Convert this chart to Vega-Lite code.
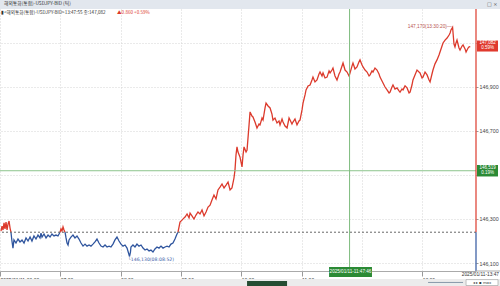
{
"$schema": "https://vega.github.io/schema/vega-lite/v6.json",
"width": 476, "height": 262,
"autosize": {"type": "none"},
"padding": {"left": 0, "top": 9, "right": 24, "bottom": 15},
"background": "white",
"config": {"view": {"stroke": null}, "font": "Liberation Sans", "axis": {"labelOverlap": false}},
"datasets": {"ticks": [
{"t":1.0,"p":146.245,"seg":1,"dir":"up"},{"t":2.0,"p":146.268,"seg":1,"dir":"up"},{"t":3.0,"p":146.250,"seg":1,"dir":"up"},{"t":4.0,"p":146.282,"seg":1,"dir":"up"},{"t":5.0,"p":146.255,"seg":1,"dir":"up"},{"t":6.0,"p":146.286,"seg":1,"dir":"up"},{"t":7.0,"p":146.250,"seg":1,"dir":"up"},{"t":8.0,"p":146.277,"seg":1,"dir":"up"},{"t":9.0,"p":146.291,"seg":1,"dir":"up"},{"t":10.0,"p":146.259,"seg":1,"dir":"up"},{"t":10.9,"p":146.240,"seg":1,"dir":"up"},
{"t":10.9,"p":146.240,"seg":2,"dir":"down"},{"t":11.9,"p":146.200,"seg":2,"dir":"down"},{"t":12.9,"p":146.168,"seg":2,"dir":"down"},{"t":13.9,"p":146.205,"seg":2,"dir":"down"},{"t":15.9,"p":146.191,"seg":2,"dir":"down"},{"t":17.9,"p":146.209,"seg":2,"dir":"down"},{"t":19.9,"p":146.196,"seg":2,"dir":"down"},{"t":21.9,"p":146.205,"seg":2,"dir":"down"},{"t":23.9,"p":146.191,"seg":2,"dir":"down"},{"t":25.9,"p":146.214,"seg":2,"dir":"down"},{"t":27.9,"p":146.200,"seg":2,"dir":"down"},{"t":29.9,"p":146.218,"seg":2,"dir":"down"},{"t":31.8,"p":146.200,"seg":2,"dir":"down"},{"t":33.8,"p":146.223,"seg":2,"dir":"down"},{"t":35.8,"p":146.209,"seg":2,"dir":"down"},{"t":37.8,"p":146.227,"seg":2,"dir":"down"},{"t":39.8,"p":146.214,"seg":2,"dir":"down"},{"t":40.8,"p":146.236,"seg":2,"dir":"down"},{"t":41.8,"p":146.218,"seg":2,"dir":"down"},{"t":43.8,"p":146.232,"seg":2,"dir":"down"},{"t":45.8,"p":146.214,"seg":2,"dir":"down"},{"t":47.8,"p":146.227,"seg":2,"dir":"down"},{"t":49.8,"p":146.218,"seg":2,"dir":"down"},{"t":51.7,"p":146.232,"seg":2,"dir":"down"},{"t":53.7,"p":146.223,"seg":2,"dir":"down"},{"t":55.7,"p":146.227,"seg":2,"dir":"down"},{"t":57.7,"p":146.223,"seg":2,"dir":"down"},{"t":59.7,"p":146.240,"seg":2,"dir":"down"},
{"t":59.7,"p":146.240,"seg":3,"dir":"up"},{"t":60.7,"p":146.255,"seg":3,"dir":"up"},{"t":61.7,"p":146.245,"seg":3,"dir":"up"},{"t":62.7,"p":146.264,"seg":3,"dir":"up"},{"t":63.7,"p":146.250,"seg":3,"dir":"up"},{"t":64.7,"p":146.240,"seg":3,"dir":"up"},
{"t":64.7,"p":146.240,"seg":4,"dir":"down"},{"t":65.7,"p":146.214,"seg":4,"dir":"down"},{"t":66.7,"p":146.191,"seg":4,"dir":"down"},{"t":67.7,"p":146.182,"seg":4,"dir":"down"},{"t":68.7,"p":146.205,"seg":4,"dir":"down"},{"t":70.6,"p":146.218,"seg":4,"dir":"down"},{"t":72.6,"p":146.227,"seg":4,"dir":"down"},{"t":74.6,"p":146.214,"seg":4,"dir":"down"},{"t":76.6,"p":146.223,"seg":4,"dir":"down"},{"t":78.6,"p":146.209,"seg":4,"dir":"down"},{"t":80.6,"p":146.191,"seg":4,"dir":"down"},{"t":82.6,"p":146.177,"seg":4,"dir":"down"},{"t":84.6,"p":146.186,"seg":4,"dir":"down"},{"t":86.6,"p":146.177,"seg":4,"dir":"down"},{"t":88.6,"p":146.182,"seg":4,"dir":"down"},{"t":90.5,"p":146.177,"seg":4,"dir":"down"},{"t":92.5,"p":146.186,"seg":4,"dir":"down"},{"t":94.5,"p":146.196,"seg":4,"dir":"down"},{"t":96.5,"p":146.209,"seg":4,"dir":"down"},{"t":98.5,"p":146.191,"seg":4,"dir":"down"},{"t":100.5,"p":146.177,"seg":4,"dir":"down"},{"t":102.5,"p":146.173,"seg":4,"dir":"down"},{"t":104.5,"p":146.182,"seg":4,"dir":"down"},{"t":106.5,"p":146.173,"seg":4,"dir":"down"},{"t":108.5,"p":146.177,"seg":4,"dir":"down"},{"t":110.4,"p":146.173,"seg":4,"dir":"down"},{"t":112.4,"p":146.186,"seg":4,"dir":"down"},{"t":114.4,"p":146.205,"seg":4,"dir":"down"},{"t":116.4,"p":146.218,"seg":4,"dir":"down"},{"t":118.4,"p":146.200,"seg":4,"dir":"down"},{"t":120.4,"p":146.186,"seg":4,"dir":"down"},{"t":122.4,"p":146.177,"seg":4,"dir":"down"},{"t":124.4,"p":146.182,"seg":4,"dir":"down"},{"t":126.4,"p":146.168,"seg":4,"dir":"down"},{"t":128.9,"p":146.130,"seg":4,"dir":"down"},{"t":129.8,"p":146.150,"seg":4,"dir":"down"},{"t":130.3,"p":146.173,"seg":4,"dir":"down"},{"t":132.3,"p":146.182,"seg":4,"dir":"down"},{"t":134.3,"p":146.173,"seg":4,"dir":"down"},{"t":136.3,"p":146.186,"seg":4,"dir":"down"},{"t":138.3,"p":146.177,"seg":4,"dir":"down"},{"t":140.3,"p":146.182,"seg":4,"dir":"down"},{"t":142.3,"p":146.168,"seg":4,"dir":"down"},{"t":144.3,"p":146.159,"seg":4,"dir":"down"},{"t":146.3,"p":146.164,"seg":4,"dir":"down"},{"t":148.3,"p":146.155,"seg":4,"dir":"down"},{"t":150.2,"p":146.159,"seg":4,"dir":"down"},{"t":152.2,"p":146.150,"seg":4,"dir":"down"},{"t":154.2,"p":146.164,"seg":4,"dir":"down"},{"t":156.2,"p":146.173,"seg":4,"dir":"down"},{"t":158.2,"p":146.168,"seg":4,"dir":"down"},{"t":160.2,"p":146.177,"seg":4,"dir":"down"},{"t":162.2,"p":146.168,"seg":4,"dir":"down"},{"t":164.2,"p":146.173,"seg":4,"dir":"down"},{"t":166.2,"p":146.177,"seg":4,"dir":"down"},{"t":168.2,"p":146.173,"seg":4,"dir":"down"},{"t":170.1,"p":146.186,"seg":4,"dir":"down"},{"t":172.1,"p":146.191,"seg":4,"dir":"down"},{"t":174.1,"p":146.209,"seg":4,"dir":"down"},{"t":176.1,"p":146.232,"seg":4,"dir":"down"},{"t":177.1,"p":146.240,"seg":4,"dir":"down"},
{"t":177.1,"p":146.240,"seg":5,"dir":"up"},{"t":179.1,"p":146.286,"seg":5,"dir":"up"},{"t":181.1,"p":146.295,"seg":5,"dir":"up"},{"t":183.1,"p":146.305,"seg":5,"dir":"up"},{"t":184.1,"p":146.309,"seg":5,"dir":"up"},{"t":186.1,"p":146.323,"seg":5,"dir":"up"},{"t":188.1,"p":146.305,"seg":5,"dir":"up"},{"t":189.1,"p":146.327,"seg":5,"dir":"up"},{"t":191.0,"p":146.314,"seg":5,"dir":"up"},{"t":193.0,"p":146.300,"seg":5,"dir":"up"},{"t":195.0,"p":146.318,"seg":5,"dir":"up"},{"t":197.0,"p":146.332,"seg":5,"dir":"up"},{"t":199.0,"p":146.323,"seg":5,"dir":"up"},{"t":201.0,"p":146.341,"seg":5,"dir":"up"},{"t":203.0,"p":146.314,"seg":5,"dir":"up"},{"t":205.0,"p":146.332,"seg":5,"dir":"up"},{"t":207.0,"p":146.354,"seg":5,"dir":"up"},{"t":209.0,"p":146.363,"seg":5,"dir":"up"},{"t":210.9,"p":146.386,"seg":5,"dir":"up"},{"t":212.9,"p":146.409,"seg":5,"dir":"up"},{"t":214.9,"p":146.391,"seg":5,"dir":"up"},{"t":216.9,"p":146.432,"seg":5,"dir":"up"},{"t":218.9,"p":146.445,"seg":5,"dir":"up"},{"t":220.9,"p":146.459,"seg":5,"dir":"up"},{"t":222.9,"p":146.441,"seg":5,"dir":"up"},{"t":224.9,"p":146.454,"seg":5,"dir":"up"},{"t":226.9,"p":146.468,"seg":5,"dir":"up"},{"t":228.9,"p":146.432,"seg":5,"dir":"up"},{"t":230.8,"p":146.441,"seg":5,"dir":"up"},{"t":232.8,"p":146.486,"seg":5,"dir":"up"},{"t":233.8,"p":146.522,"seg":5,"dir":"up"},{"t":234.8,"p":146.590,"seg":5,"dir":"up"},{"t":235.8,"p":146.627,"seg":5,"dir":"up"},{"t":236.8,"p":146.604,"seg":5,"dir":"up"},{"t":238.8,"p":146.581,"seg":5,"dir":"up"},{"t":240.8,"p":146.536,"seg":5,"dir":"up"},{"t":241.8,"p":146.590,"seg":5,"dir":"up"},{"t":242.8,"p":146.627,"seg":5,"dir":"up"},{"t":244.8,"p":146.604,"seg":5,"dir":"up"},{"t":245.8,"p":146.613,"seg":5,"dir":"up"},{"t":247.8,"p":146.727,"seg":5,"dir":"up"},{"t":248.8,"p":146.786,"seg":5,"dir":"up"},{"t":250.7,"p":146.767,"seg":5,"dir":"up"},{"t":251.7,"p":146.763,"seg":5,"dir":"up"},{"t":253.7,"p":146.740,"seg":5,"dir":"up"},{"t":255.7,"p":146.713,"seg":5,"dir":"up"},{"t":257.7,"p":146.731,"seg":5,"dir":"up"},{"t":258.7,"p":146.727,"seg":5,"dir":"up"},{"t":260.7,"p":146.758,"seg":5,"dir":"up"},{"t":261.7,"p":146.749,"seg":5,"dir":"up"},{"t":263.7,"p":146.804,"seg":5,"dir":"up"},{"t":264.7,"p":146.826,"seg":5,"dir":"up"},{"t":266.7,"p":146.813,"seg":5,"dir":"up"},{"t":268.7,"p":146.804,"seg":5,"dir":"up"},{"t":270.6,"p":146.776,"seg":5,"dir":"up"},{"t":271.6,"p":146.749,"seg":5,"dir":"up"},{"t":273.6,"p":146.758,"seg":5,"dir":"up"},{"t":275.6,"p":146.736,"seg":5,"dir":"up"},{"t":277.6,"p":146.745,"seg":5,"dir":"up"},{"t":278.6,"p":146.727,"seg":5,"dir":"up"},{"t":280.6,"p":146.754,"seg":5,"dir":"up"},{"t":281.6,"p":146.740,"seg":5,"dir":"up"},{"t":283.6,"p":146.722,"seg":5,"dir":"up"},{"t":285.6,"p":146.713,"seg":5,"dir":"up"},{"t":287.6,"p":146.758,"seg":5,"dir":"up"},{"t":288.6,"p":146.749,"seg":5,"dir":"up"},{"t":290.5,"p":146.731,"seg":5,"dir":"up"},{"t":291.5,"p":146.740,"seg":5,"dir":"up"},{"t":293.5,"p":146.754,"seg":5,"dir":"up"},{"t":295.5,"p":146.727,"seg":5,"dir":"up"},{"t":297.5,"p":146.745,"seg":5,"dir":"up"},{"t":298.5,"p":146.749,"seg":5,"dir":"up"},{"t":300.5,"p":146.795,"seg":5,"dir":"up"},{"t":301.5,"p":146.826,"seg":5,"dir":"up"},{"t":303.5,"p":146.863,"seg":5,"dir":"up"},{"t":304.5,"p":146.886,"seg":5,"dir":"up"},{"t":306.5,"p":146.904,"seg":5,"dir":"up"},{"t":308.5,"p":146.908,"seg":5,"dir":"up"},{"t":310.4,"p":146.931,"seg":5,"dir":"up"},{"t":311.4,"p":146.944,"seg":5,"dir":"up"},{"t":313.4,"p":146.922,"seg":5,"dir":"up"},{"t":315.4,"p":146.931,"seg":5,"dir":"up"},{"t":317.4,"p":146.958,"seg":5,"dir":"up"},{"t":318.4,"p":146.967,"seg":5,"dir":"up"},{"t":320.4,"p":146.949,"seg":5,"dir":"up"},{"t":321.4,"p":146.963,"seg":5,"dir":"up"},{"t":323.4,"p":146.940,"seg":5,"dir":"up"},{"t":325.4,"p":146.944,"seg":5,"dir":"up"},{"t":327.4,"p":146.972,"seg":5,"dir":"up"},{"t":328.4,"p":146.963,"seg":5,"dir":"up"},{"t":330.3,"p":146.976,"seg":5,"dir":"up"},{"t":331.3,"p":146.985,"seg":5,"dir":"up"},{"t":333.3,"p":146.949,"seg":5,"dir":"up"},{"t":335.3,"p":146.931,"seg":5,"dir":"up"},{"t":337.3,"p":146.958,"seg":5,"dir":"up"},{"t":338.3,"p":146.967,"seg":5,"dir":"up"},{"t":340.3,"p":146.994,"seg":5,"dir":"up"},{"t":341.3,"p":147.008,"seg":5,"dir":"up"},{"t":343.3,"p":146.976,"seg":5,"dir":"up"},{"t":345.3,"p":146.967,"seg":5,"dir":"up"},{"t":347.3,"p":146.949,"seg":5,"dir":"up"},{"t":348.3,"p":146.963,"seg":5,"dir":"up"},{"t":350.2,"p":146.994,"seg":5,"dir":"up"},{"t":351.2,"p":147.008,"seg":5,"dir":"up"},{"t":353.2,"p":146.981,"seg":5,"dir":"up"},{"t":355.2,"p":146.990,"seg":5,"dir":"up"},{"t":357.2,"p":147.013,"seg":5,"dir":"up"},{"t":358.2,"p":147.022,"seg":5,"dir":"up"},{"t":360.2,"p":146.999,"seg":5,"dir":"up"},{"t":361.2,"p":146.990,"seg":5,"dir":"up"},{"t":363.2,"p":146.976,"seg":5,"dir":"up"},{"t":365.2,"p":146.967,"seg":5,"dir":"up"},{"t":367.2,"p":146.949,"seg":5,"dir":"up"},{"t":368.2,"p":146.954,"seg":5,"dir":"up"},{"t":370.1,"p":146.972,"seg":5,"dir":"up"},{"t":371.1,"p":146.967,"seg":5,"dir":"up"},{"t":373.1,"p":146.985,"seg":5,"dir":"up"},{"t":375.1,"p":146.976,"seg":5,"dir":"up"},{"t":377.1,"p":146.958,"seg":5,"dir":"up"},{"t":378.1,"p":146.944,"seg":5,"dir":"up"},{"t":380.1,"p":146.926,"seg":5,"dir":"up"},{"t":381.1,"p":146.917,"seg":5,"dir":"up"},{"t":383.1,"p":146.899,"seg":5,"dir":"up"},{"t":385.1,"p":146.886,"seg":5,"dir":"up"},{"t":387.1,"p":146.872,"seg":5,"dir":"up"},{"t":388.1,"p":146.876,"seg":5,"dir":"up"},{"t":390.0,"p":146.899,"seg":5,"dir":"up"},{"t":391.0,"p":146.908,"seg":5,"dir":"up"},{"t":393.0,"p":146.890,"seg":5,"dir":"up"},{"t":395.0,"p":146.895,"seg":5,"dir":"up"},{"t":397.0,"p":146.881,"seg":5,"dir":"up"},{"t":398.0,"p":146.876,"seg":5,"dir":"up"},{"t":400.0,"p":146.890,"seg":5,"dir":"up"},{"t":401.0,"p":146.886,"seg":5,"dir":"up"},{"t":403.0,"p":146.904,"seg":5,"dir":"up"},{"t":405.0,"p":146.895,"seg":5,"dir":"up"},{"t":407.0,"p":146.872,"seg":5,"dir":"up"},{"t":408.0,"p":146.876,"seg":5,"dir":"up"},{"t":409.9,"p":146.908,"seg":5,"dir":"up"},{"t":410.9,"p":146.931,"seg":5,"dir":"up"},{"t":412.9,"p":146.954,"seg":5,"dir":"up"},{"t":414.9,"p":146.976,"seg":5,"dir":"up"},{"t":416.9,"p":146.967,"seg":5,"dir":"up"},{"t":417.9,"p":146.963,"seg":5,"dir":"up"},{"t":419.9,"p":146.940,"seg":5,"dir":"up"},{"t":420.9,"p":146.944,"seg":5,"dir":"up"},{"t":422.9,"p":146.967,"seg":5,"dir":"up"},{"t":424.9,"p":146.954,"seg":5,"dir":"up"},{"t":426.9,"p":146.931,"seg":5,"dir":"up"},{"t":427.9,"p":146.922,"seg":5,"dir":"up"},{"t":429.8,"p":146.958,"seg":5,"dir":"up"},{"t":430.8,"p":146.976,"seg":5,"dir":"up"},{"t":432.8,"p":147.004,"seg":5,"dir":"up"},{"t":434.8,"p":147.022,"seg":5,"dir":"up"},{"t":436.8,"p":147.044,"seg":5,"dir":"up"},{"t":437.8,"p":147.058,"seg":5,"dir":"up"},{"t":439.8,"p":147.085,"seg":5,"dir":"up"},{"t":440.8,"p":147.099,"seg":5,"dir":"up"},{"t":442.8,"p":147.112,"seg":5,"dir":"up"},{"t":444.8,"p":147.121,"seg":5,"dir":"up"},{"t":446.8,"p":147.135,"seg":5,"dir":"up"},{"t":447.8,"p":147.144,"seg":5,"dir":"up"},{"t":448.7,"p":147.158,"seg":5,"dir":"up"},{"t":450.3,"p":147.170,"seg":5,"dir":"up"},{"t":451.7,"p":147.094,"seg":5,"dir":"up"},{"t":452.7,"p":147.081,"seg":5,"dir":"up"},{"t":453.7,"p":147.099,"seg":5,"dir":"up"},{"t":454.7,"p":147.112,"seg":5,"dir":"up"},{"t":456.7,"p":147.076,"seg":5,"dir":"up"},{"t":457.7,"p":147.067,"seg":5,"dir":"up"},{"t":459.7,"p":147.085,"seg":5,"dir":"up"},{"t":460.7,"p":147.090,"seg":5,"dir":"up"},{"t":462.7,"p":147.072,"seg":5,"dir":"up"},{"t":463.7,"p":147.058,"seg":5,"dir":"up"},{"t":465.7,"p":147.076,"seg":5,"dir":"up"},{"t":466.7,"p":147.081,"seg":5,"dir":"up"},{"t":467.9,"p":147.082,"seg":5,"dir":"up"}
]},
"layer": [
{"data": {"name": "ticks"},
 "mark": {"type": "line", "strokeWidth": 1.3},
 "encoding": {
  "x": {"field": "t", "type": "quantitative", "scale": {"domain": [0, 473.6], "nice": false, "zero": false},
   "axis": {"title": null, "values": [0, 60, 120, 180, 240, 300, 360, 420],
    "labelExpr": "datum.value == 0 ? '2025/01/11-06:00' : (datum.value == 360 ? '' : (((6 + datum.value/60) < 10 ? '0' : '') + (6 + datum.value/60) + ':00'))",
    "labelAlign": "left", "labelFontSize": 5, "labelColor": "#333333", "labelPadding": 1, "labelDy": -5, "labelDx": 1,
    "labelFlush": false, "labelBound": false, "labelOverlap": false,
    "tickSize": 5, "tickColor": "#999999", "domainColor": "#aaaaaa",
    "grid": true, "gridColor": "#d4d4d4", "gridDash": [1, 2]}},
  "y": {"field": "p", "type": "quantitative", "scale": {"domain": [146.064, 147.253], "nice": false, "zero": false},
   "axis": {"title": null, "orient": "right", "values": [146.1, 146.2, 146.3, 146.4, 146.5, 146.6, 146.7, 146.8, 146.9, 147.0, 147.1, 147.2],
    "labelExpr": "(abs(datum.value - 146.5) < 0.01 || abs(datum.value - 147.1) < 0.01) ? '' : replace(format(datum.value, '.3f'), '.', ',')",
    "labelFontSize": 5.3, "labelColor": "#444444", "labelPadding": 1, "labelOverlap": false, "labelBound": false, "labelFlush": false,
    "tickSize": 2, "tickColor": "#999999", "domain": false,
    "grid": true, "gridColor": "#d4d4d4", "gridDash": [1, 2]}},
  "color": {"field": "dir", "type": "nominal", "scale": {"domain": ["up", "down"], "range": ["#dc3a2c", "#2f559e"]}, "legend": null},
  "detail": {"field": "seg"},
  "order": {"field": "t"}
 }},
{"data": {"values": [{}]}, "mark": {"type": "rule", "color": "#666666", "strokeDash": [2, 2], "strokeWidth": 1},
 "encoding": {"y": {"datum": 146.24, "type": "quantitative"}}},
{"data": {"values": [{}]}, "mark": {"type": "rule", "color": "#8cc48c", "strokeWidth": 1},
 "encoding": {"y": {"datum": 146.519, "type": "quantitative"}}},
{"data": {"values": [{}]}, "mark": {"type": "rule", "color": "#7dbb7d", "strokeWidth": 1},
 "encoding": {"x": {"datum": 347.8, "type": "quantitative"}}},
{"data": {"values": [{}]}, "mark": {"type": "rule", "color": "#dc3a2c", "strokeWidth": 1.2},
 "encoding": {"x": {"datum": 473.6, "type": "quantitative"}, "y": {"datum": 146.24, "type": "quantitative"}, "y2": {"datum": 147.253}}},
{"data": {"values": [{}]}, "mark": {"type": "rule", "color": "#2f559e", "strokeWidth": 1.2},
 "encoding": {"x": {"datum": 473.6, "type": "quantitative"}, "y": {"datum": 146.064, "type": "quantitative"}, "y2": {"datum": 146.24}}},
{"data": {"values": [{}]}, "mark": {"type": "rule", "color": "#aaaaaa", "strokeWidth": 1},
 "encoding": {"x": {"datum": 473.6, "type": "quantitative"}, "x2": {"datum": 497.5}, "y": {"datum": 146.064, "type": "quantitative"}}},
{"data": {"values": [{}]}, "mark": {"type": "rect", "color": "#e2e7ee"},
 "encoding": {"x": {"datum": 0, "type": "quantitative"}, "x2": {"datum": 497.5}, "y": {"datum": 147.253, "type": "quantitative"}, "y2": {"datum": 147.294}}},
{"data": {"values": [{}]}, "mark": {"type": "text", "text": "해외통화(통합)-USDJPY-BID (틱)", "align": "left", "baseline": "middle", "fontSize": 4.8, "color": "#333333", "font": "Noto Sans CJK KR"},
 "encoding": {"x": {"datum": 4, "type": "quantitative"}, "y": {"datum": 147.274, "type": "quantitative"}}},
{"data": {"values": [{}]}, "mark": {"type": "text", "text": "□ ×", "align": "left", "baseline": "middle", "fontSize": 5, "color": "#555555", "font": "DejaVu Sans"},
 "encoding": {"x": {"datum": 484.5, "type": "quantitative"}, "y": {"datum": 147.274, "type": "quantitative"}}},
{"data": {"values": [{}]}, "mark": {"type": "text", "text": "▮<해외통화(통합)-USDJPY-BID>13:47:55 종:147,082", "align": "left", "baseline": "middle", "fontSize": 4.6, "color": "#333333", "font": "Noto Sans CJK KR"},
 "encoding": {"x": {"datum": 1, "type": "quantitative"}, "y": {"datum": 147.235, "type": "quantitative"}}},
{"data": {"values": [{}]}, "mark": {"type": "text", "text": "▲0.860  +0.59%", "align": "left", "baseline": "middle", "fontSize": 4.6, "color": "#dc3a2c", "font": "Noto Sans CJK KR"},
 "encoding": {"x": {"datum": 116.4, "type": "quantitative"}, "y": {"datum": 147.235, "type": "quantitative"}}},
{"data": {"values": [{}]}, "mark": {"type": "text", "text": "147,170(13:30:20)—", "align": "right", "baseline": "middle", "fontSize": 4.8, "color": "#b85550"},
 "encoding": {"x": {"datum": 449.5, "type": "quantitative"}, "y": {"datum": 147.17, "type": "quantitative"}}},
{"data": {"values": [{}]}, "mark": {"type": "text", "text": "└146,130(08:08:52)", "align": "left", "baseline": "middle", "fontSize": 4.6, "color": "#3b5ea8", "font": "DejaVu Sans"},
 "encoding": {"x": {"datum": 127.4, "type": "quantitative"}, "y": {"datum": 146.114, "type": "quantitative"}}},
{"data": {"values": [{}]}, "mark": {"type": "rect", "color": "#e03a2e"},
 "encoding": {"x": {"datum": 474.6, "type": "quantitative"}, "x2": {"datum": 495.5}, "y": {"datum": 147.110, "type": "quantitative"}, "y2": {"datum": 147.060}}},
{"data": {"values": [{}]}, "mark": {"type": "text", "text": "147,082", "align": "center", "baseline": "middle", "fontSize": 4.5, "color": "white"},
 "encoding": {"x": {"datum": 485.1, "type": "quantitative"}, "y": {"datum": 147.097, "type": "quantitative"}}},
{"data": {"values": [{}]}, "mark": {"type": "text", "text": "0.59%", "align": "center", "baseline": "middle", "fontSize": 4.5, "color": "white"},
 "encoding": {"x": {"datum": 485.1, "type": "quantitative"}, "y": {"datum": 147.074, "type": "quantitative"}}},
{"data": {"values": [{}]}, "mark": {"type": "rect", "color": "#2b8a35"},
 "encoding": {"x": {"datum": 474.6, "type": "quantitative"}, "x2": {"datum": 495.5}, "y": {"datum": 146.545, "type": "quantitative"}, "y2": {"datum": 146.493}}},
{"data": {"values": [{}]}, "mark": {"type": "text", "text": "146,519", "align": "center", "baseline": "middle", "fontSize": 4.5, "color": "white"},
 "encoding": {"x": {"datum": 485.1, "type": "quantitative"}, "y": {"datum": 146.532, "type": "quantitative"}}},
{"data": {"values": [{}]}, "mark": {"type": "text", "text": "0.19%", "align": "center", "baseline": "middle", "fontSize": 4.5, "color": "white"},
 "encoding": {"x": {"datum": 485.1, "type": "quantitative"}, "y": {"datum": 146.507, "type": "quantitative"}}},
{"data": {"values": [{}]}, "mark": {"type": "rect", "color": "#2b8a35"},
 "encoding": {"x": {"datum": 327.4, "type": "quantitative"}, "x2": {"datum": 370.1}, "y": {"datum": 146.082, "type": "quantitative"}, "y2": {"datum": 146.037}}},
{"data": {"values": [{}]}, "mark": {"type": "text", "text": "2025/01/11-11:47:46", "align": "center", "baseline": "middle", "fontSize": 4.6, "color": "white"},
 "encoding": {"x": {"datum": 348.7, "type": "quantitative"}, "y": {"datum": 146.059, "type": "quantitative"}}},
{"data": {"values": [{}]}, "mark": {"type": "text", "text": "2025/01/11-13:47", "align": "right", "baseline": "middle", "fontSize": 4.8, "color": "#333333"},
 "encoding": {"x": {"datum": 496.5, "type": "quantitative"}, "y": {"datum": 146.048, "type": "quantitative"}}},
{"data": {"values": [{}]}, "mark": {"type": "rect", "color": "#ececec"},
 "encoding": {"x": {"datum": 0, "type": "quantitative"}, "x2": {"datum": 497.5}, "y": {"datum": 146.028, "type": "quantitative"}, "y2": {"datum": 145.996}}},
{"data": {"values": [{}]}, "mark": {"type": "rect", "color": "#264d33"},
 "encoding": {"x": {"datum": 245.8, "type": "quantitative"}, "x2": {"datum": 285.6}, "y": {"datum": 146.019, "type": "quantitative"}, "y2": {"datum": 145.996}}},
{"data": {"values": [{}]}, "mark": {"type": "rule", "color": "#8899aa", "strokeWidth": 1},
 "encoding": {"x": {"datum": 425.9, "type": "quantitative"}, "x2": {"datum": 460.7}, "y": {"datum": 146.012, "type": "quantitative"}}},
{"data": {"values": [{}]}, "mark": {"type": "rect", "fill": "white", "stroke": "#999999", "strokeWidth": 0.6},
 "encoding": {"x": {"datum": 463.7, "type": "quantitative"}, "x2": {"datum": 495.5}, "y": {"datum": 146.025, "type": "quantitative"}, "y2": {"datum": 145.998}}},
{"data": {"values": [{}]}, "mark": {"type": "text", "text": "◂ ▸ ▪ max", "align": "center", "baseline": "middle", "fontSize": 3.8, "color": "#333333", "font": "DejaVu Sans"},
 "encoding": {"x": {"datum": 479.6, "type": "quantitative"}, "y": {"datum": 146.0115, "type": "quantitative"}}}
]
}
